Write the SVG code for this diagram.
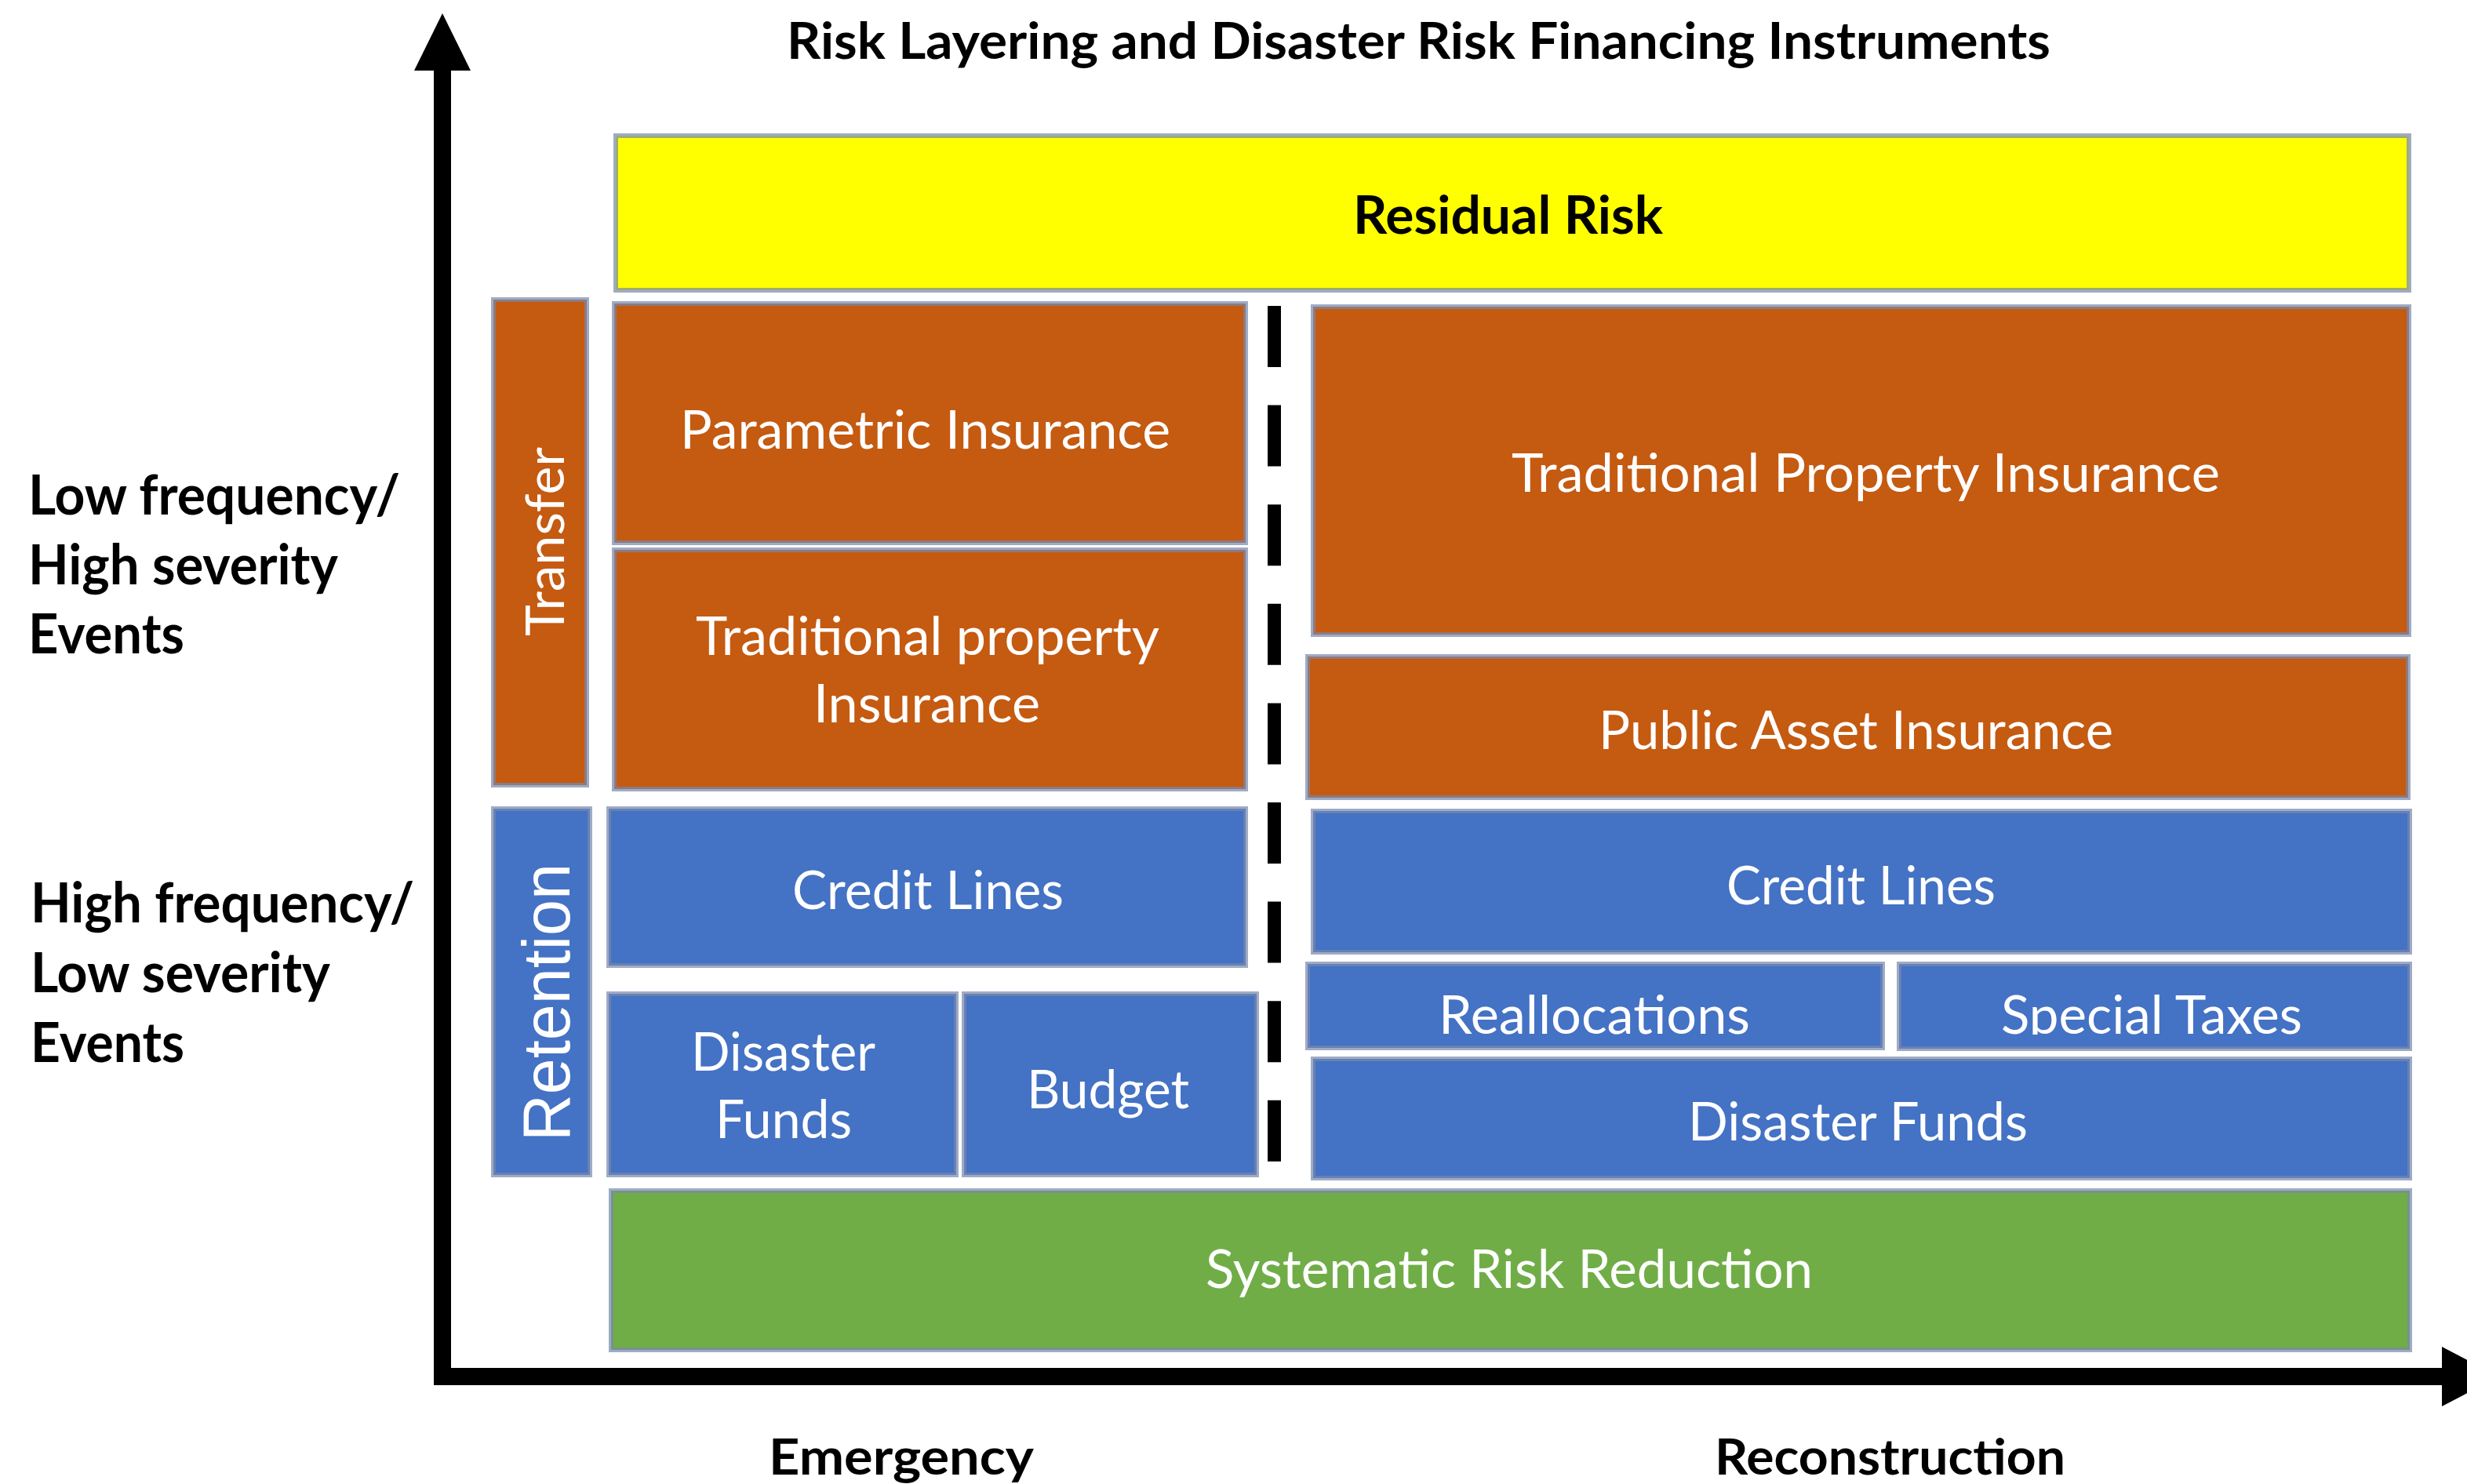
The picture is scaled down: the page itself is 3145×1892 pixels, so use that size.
<svg xmlns="http://www.w3.org/2000/svg" width="3145" height="1892" viewBox="0 0 3145 1892">
  <defs>
    <style>
      .box { stroke: #7688ad; stroke-width: 6; stroke-opacity: 0.7; }
      .yellow { fill: #ffff00; }
      .orange { fill: #c55a11; }
      .blue { fill: #4472c4; }
      .green { fill: #70ad47; }
      .lbl { font-family: Lato, "Liberation Sans", sans-serif; font-size: 68px; fill: #ffffff; }
      .dark { font-family: Lato, "Liberation Sans", sans-serif; font-weight: bold; fill: #000000; }
      .axis { fill: none; stroke: #000000; stroke-width: 22; stroke-linejoin: miter; }
      .divider { stroke: #000000; stroke-width: 17; stroke-dasharray: 78 48.6; }
    </style>
    <clipPath id="clipTaxes">
      <rect x="2421" y="1229" width="651" height="90"/>
    </clipPath>
  </defs>

  <rect width="3145" height="1892" fill="#ffffff"/>

  <!-- heading -->
  <text class="dark" x="1003" y="75" font-size="65" textLength="1611" lengthAdjust="spacingAndGlyphs">Risk Layering and Disaster Risk Financing Instruments</text>

  <!-- axes and the emergency / reconstruction divider -->
  <g id="connectors">
    <path class="axis" d="M564,88 V1755 H3115"/>
    <polygon points="564,17 600,90 528,90" fill="#000000"/>
    <polygon points="3186,1755 3113,1717 3113,1793" fill="#000000"/>
    <line class="divider" x1="1624.5" y1="390" x2="1624.5" y2="1482"/>
  </g>

  <!-- frequency / severity labels -->
  <g id="label-low-frequency">
    <text class="dark" x="36" y="656" font-size="70" textLength="474" lengthAdjust="spacingAndGlyphs">Low frequency/</text>
    <text class="dark" x="36" y="745" font-size="70" textLength="395" lengthAdjust="spacingAndGlyphs">High severity</text>
    <text class="dark" x="36" y="833" font-size="70" textLength="199" lengthAdjust="spacingAndGlyphs">Events</text>
  </g>
  <g id="label-high-frequency">
    <text class="dark" x="39" y="1176" font-size="70" textLength="489" lengthAdjust="spacingAndGlyphs">High frequency/</text>
    <text class="dark" x="39" y="1265" font-size="70" textLength="382" lengthAdjust="spacingAndGlyphs">Low severity</text>
    <text class="dark" x="39" y="1354" font-size="70" textLength="196" lengthAdjust="spacingAndGlyphs">Events</text>
  </g>

  <!-- residual risk -->
  <g id="residual-risk">
    <rect class="box yellow" x="785" y="173" width="2286" height="197"/>
    <text class="dark" x="1725" y="298" font-size="67" textLength="395" lengthAdjust="spacingAndGlyphs">Residual Risk</text>
  </g>

  <!-- transfer layer -->
  <g id="transfer">
    <rect class="box orange" x="629" y="382" width="119" height="619"/>
    <text class="lbl" transform="translate(719,811) rotate(-90)" x="0" y="0" font-size="71" textLength="241" lengthAdjust="spacingAndGlyphs">Transfer</text>
  </g>
  <g id="parametric-insurance">
    <rect class="box orange" x="783" y="387" width="805" height="305"/>
    <text class="lbl" x="867" y="572" textLength="625" lengthAdjust="spacingAndGlyphs">Parametric Insurance</text>
  </g>
  <g id="traditional-property-insurance-emergency">
    <rect class="box orange" x="783" y="701" width="805" height="305"/>
    <text class="lbl" x="887" y="835" textLength="591" lengthAdjust="spacingAndGlyphs">Traditional property</text>
    <text class="lbl" x="1037" y="921" textLength="289" lengthAdjust="spacingAndGlyphs">Insurance</text>
  </g>
  <g id="traditional-property-insurance-reconstruction">
    <rect class="box orange" x="1674" y="391" width="1397" height="418"/>
    <text class="lbl" x="1927" y="627" textLength="903" lengthAdjust="spacingAndGlyphs">Traditional Property Insurance</text>
  </g>
  <g id="public-asset-insurance">
    <rect class="box orange" x="1667" y="837" width="1403" height="180"/>
    <text class="lbl" x="2038" y="955" textLength="656" lengthAdjust="spacingAndGlyphs">Public Asset Insurance</text>
  </g>

  <!-- retention layer -->
  <g id="retention">
    <rect class="box blue" x="629" y="1031" width="123" height="467"/>
    <text transform="translate(726,1455) rotate(-90)" x="0" y="0" font-family="'Liberation Sans', Arial, sans-serif" font-size="86" fill="#ffffff" textLength="354" lengthAdjust="spacingAndGlyphs">Retention</text>
  </g>
  <g id="credit-lines-emergency">
    <rect class="box blue" x="776" y="1031" width="812" height="200"/>
    <text class="lbl" x="1010" y="1159" textLength="346" lengthAdjust="spacingAndGlyphs">Credit Lines</text>
  </g>
  <g id="disaster-funds-emergency">
    <rect class="box blue" x="776" y="1267" width="443" height="231"/>
    <text class="lbl" x="881" y="1365" textLength="235" lengthAdjust="spacingAndGlyphs">Disaster</text>
    <text class="lbl" x="912" y="1451" textLength="174" lengthAdjust="spacingAndGlyphs">Funds</text>
  </g>
  <g id="budget">
    <rect class="box blue" x="1229" y="1267" width="373" height="231"/>
    <text class="lbl" x="1309" y="1413" textLength="207" lengthAdjust="spacingAndGlyphs">Budget</text>
  </g>
  <g id="credit-lines-reconstruction">
    <rect class="box blue" x="1674" y="1034" width="1398" height="180"/>
    <text class="lbl" x="2201" y="1153" textLength="343" lengthAdjust="spacingAndGlyphs">Credit Lines</text>
  </g>
  <g id="reallocations">
    <rect class="box blue" x="1667" y="1229" width="733" height="107"/>
    <text class="lbl" x="1834" y="1318" textLength="397" lengthAdjust="spacingAndGlyphs">Reallocations</text>
  </g>
  <g id="special-taxes">
    <rect class="box blue" x="2421" y="1229" width="651" height="108"/>
    <text class="lbl" x="2551" y="1318" textLength="384" lengthAdjust="spacingAndGlyphs" clip-path="url(#clipTaxes)">Special Taxes</text>
  </g>
  <g id="disaster-funds-reconstruction">
    <rect class="box blue" x="1674" y="1350" width="1398" height="152"/>
    <text class="lbl" x="2152" y="1454" textLength="433" lengthAdjust="spacingAndGlyphs">Disaster Funds</text>
  </g>

  <!-- risk reduction base -->
  <g id="systematic-risk-reduction">
    <rect class="box green" x="779" y="1518" width="2293" height="203"/>
    <text class="lbl" x="1537" y="1642" textLength="774" lengthAdjust="spacingAndGlyphs">Systematic Risk Reduction</text>
  </g>

  <!-- phase labels -->
  <g id="label-emergency">
    <text class="dark" x="980" y="1880" font-size="64" textLength="338" lengthAdjust="spacingAndGlyphs">Emergency</text>
  </g>
  <g id="label-reconstruction">
    <text class="dark" x="2186" y="1880" font-size="64" textLength="447" lengthAdjust="spacingAndGlyphs">Reconstruction</text>
  </g>
</svg>
